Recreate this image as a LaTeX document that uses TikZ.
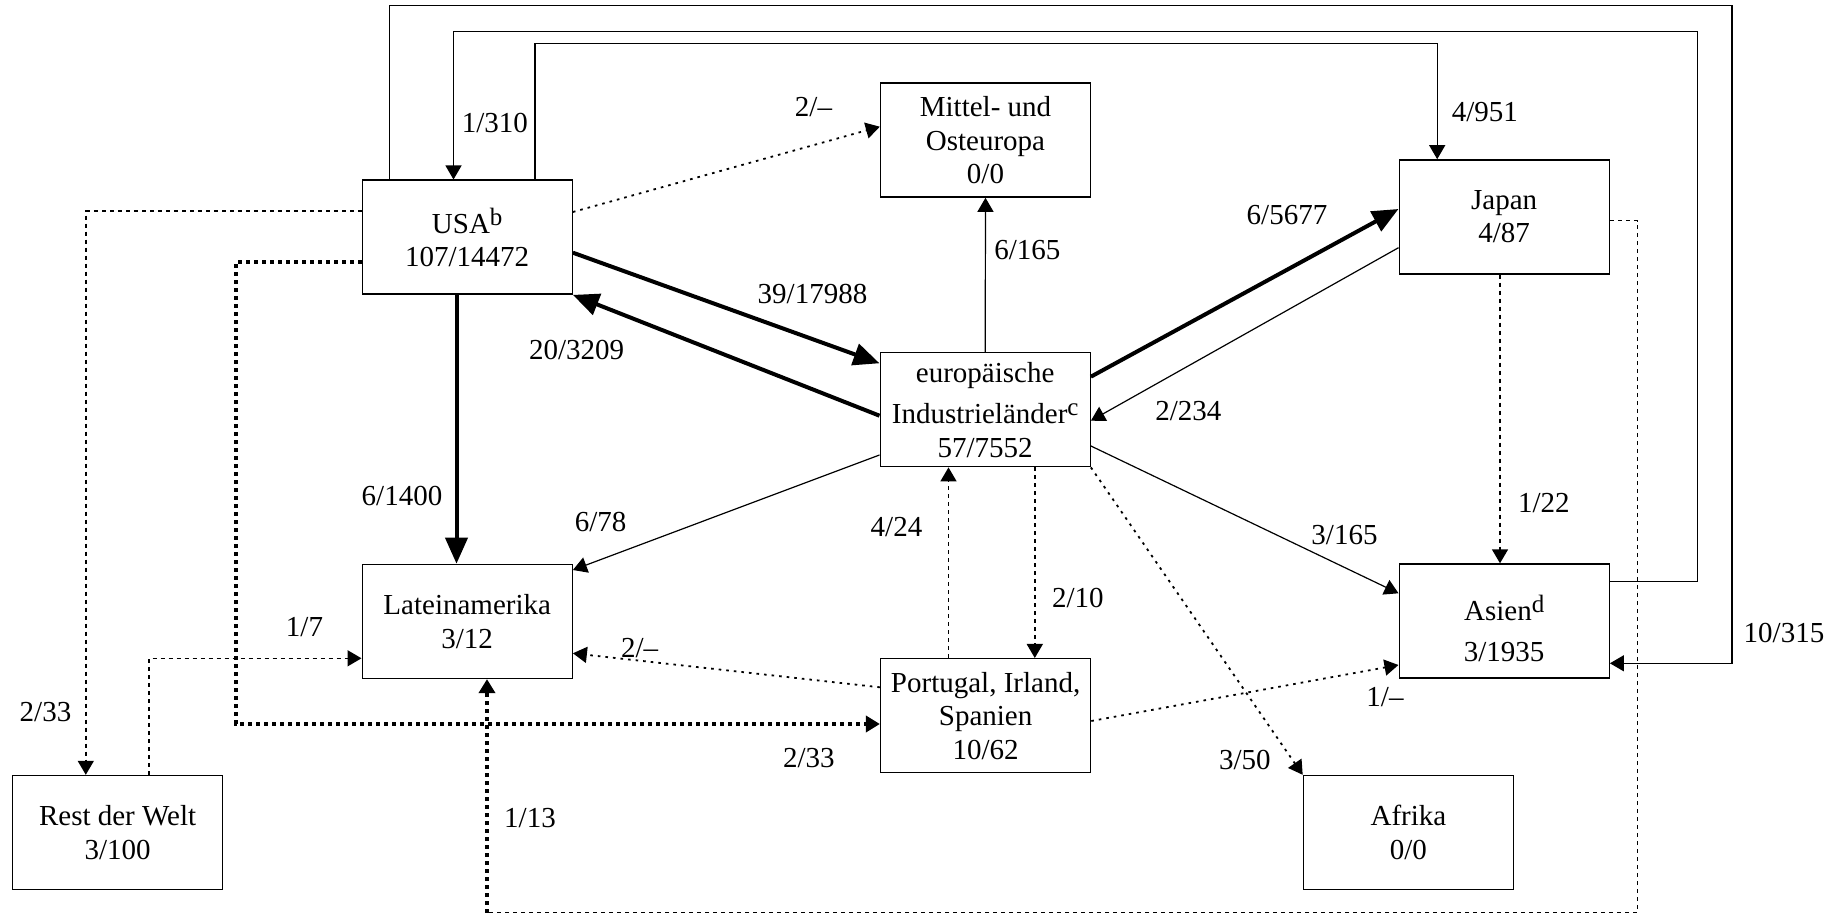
\documentclass[tikz,border=0pt]{standalone}
\usepackage{fontspec}
\setmainfont{Liberation Serif}
\usetikzlibrary{arrows.meta}
\newcommand{\hochz}[1]{\raisebox{4pt}{\fontsize{12.5}{12.5}\selectfont #1}}

\begin{document}
\begin{tikzpicture}[x=0.5pt,y=-0.5pt,
  font=\fontsize{14.5}{16.7}\selectfont,
  box/.style={draw,line width=0.7pt,minimum width=105pt,minimum height=57pt,inner sep=0pt,align=center},
  flow/.style={line width=0.6pt,-{Triangle[length=7pt,width=8pt]}},
  heavy/.style={line width=2pt,-{Triangle[length=13pt,width=11pt]}},
  dashflow/.style={flow,line width=0.8pt,dash pattern=on 2pt off 2pt},
  dotflow/.style={flow,line width=0.9pt,dash pattern=on 1.3pt off 2.5pt},
  heavydot/.style={line width=2pt,dash pattern=on 2pt off 2pt,-{Triangle[length=7pt,width=8pt]}},
  lab/.style={inner sep=0pt}]
\useasboundingbox (0,0) rectangle (1838,914);

% regions
\node[box] (usa) at (467.2,237.2) {USA\hochz{b}\\107/14472};
\node[box] (mittel) at (985.5,140.1) {Mittel- und\\Osteuropa\\0/0};
\node[box] (japan) at (1504.2,216.9) {Japan\\4/87};
\node[box] (europe) at (985.2,409.7) {europäische\\[4pt]Industrieländer\hochz{c}\\57/7552};
\node[box] (latein) at (467.2,621.4) {Lateinamerika\\3/12};
\node[box] (asien) at (1504.2,621) {\rule{0pt}{20pt}Asien\hochz{d}\\[4pt]3/1935};
\node[box] (pis) at (985.6,715.7) {Portugal, Irland,\\Spanien\\10/62};
\node[box] (rest) at (117.6,832.5) {Rest der Welt\\3/100};
\node[box] (afrika) at (1408.4,832.5) {Afrika\\0/0};

% long lines over the top
\draw[flow] (389.5,0 |- usa.north) |- (1732,5.7) |- (asien.east |- 0,663.3);
\draw[flow] (asien.east |- 0,581.7) -| (1697.2,31.7) -| (453.5,0 |- usa.north);
\draw[flow] (535,0 |- usa.north) -- (535,43.7) -| (1437.2,0 |- japan.north);

% flows from USA
\draw[dotflow] (usa.east |- 0,212) -- (mittel.west |- 0,126.7);
\draw[heavy] (usa.east |- 0,252.7) -- (europe.west |- 0,363.3);
\draw[heavy] (europe.west |- 0,415.7) -- (usa.south east);
\draw[heavy] (456.5,0 |- usa.south) -- (456.5,0 |- latein.north);
\draw[dashflow] (usa.west |- 0,211.3) -| (85.8,0 |- rest.north);
\draw[heavydot] (usa.west |- 0,261.7) -| (236,724) -- (pis.west |- 0,724);
\draw[dashflow] (149,0 |- rest.north) |- (latein.west |- 0,658.3);

% flows from the european countries
\draw[flow] (europe.north) -- (mittel.south);
\draw[heavy] (europe.east |- 0,376.7) -- (japan.west |- 0,209);
\draw[flow] (japan.west |- 0,247.7) -- (europe.east |- 0,420.7);
\draw[flow] (europe.west |- 0,455) -- (latein.east |- 0,570);
\draw[dashflow] (1034.8,0 |- europe.south) -- (1034.8,0 |- pis.north);
\draw[dashflow] (948.5,0 |- pis.north) -- (948.5,0 |- europe.south);
\draw[dotflow] (europe.south east) -- (afrika.north west);
\draw[flow] (europe.east |- 0,446) -- (asien.west |- 0,593.3);
\draw[dotflow] (pis.west |- 0,687.3) -- (latein.east |- 0,653.3);
\draw[dotflow] (pis.east |- 0,721) -- (asien.west |- 0,665);

% flows from Japan
\draw[dashflow] (1500,0 |- japan.south) -- (1500,0 |- asien.north);
\coordinate (jbend) at (487,912.5);
\draw[dashflow,-] (japan.east |- 0,220.7) -| (1637.4,912.5) -- (jbend);
\draw[heavydot] (jbend) -- (487,0 |- latein.south);

% numbers
\node[lab] (l1310) at (494.8,123.3) {1/310};
\node[lab] (l2m) at (813.5,107) {2/–};
\node[lab] (l4951) at (1484.8,111.7) {4/951};
\node[lab] (l6165) at (1027.3,250) {6/165};
\node[lab] (l65677) at (1287,215) {6/5677};
\node[lab] (l3917988) at (812.5,294.5) {39/17988};
\node[lab] (l203209) at (576.6,350) {20/3209};
\node[lab] (l2234) at (1188.4,410.7) {2/234};
\node[lab] (l61400) at (402,496) {6/1400};
\node[lab] (l678) at (600.7,521.7) {6/78};
\node[lab] (l424) at (896.5,526.7) {4/24};
\node[lab] (l122) at (1543.8,503.3) {1/22};
\node[lab] (l3165) at (1344.5,535) {3/165};
\node[lab] (l210) at (1077.8,598.3) {2/10};
\node[lab] (l17) at (304.5,626.7) {1/7};
\node[lab] (l2l) at (639.7,648.3) {2/–};
\node[lab] (l10315) at (1784,633.3) {10/315};
\node[lab] (l1a) at (1385,696.7) {1/–};
\node[lab] (l233r) at (45.5,711.7) {2/33};
\node[lab] (l233p) at (808.9,758.3) {2/33};
\node[lab] (l350) at (1244.8,760) {3/50};
\node[lab] (l113) at (530,818.3) {1/13};
\end{tikzpicture}
\end{document}
